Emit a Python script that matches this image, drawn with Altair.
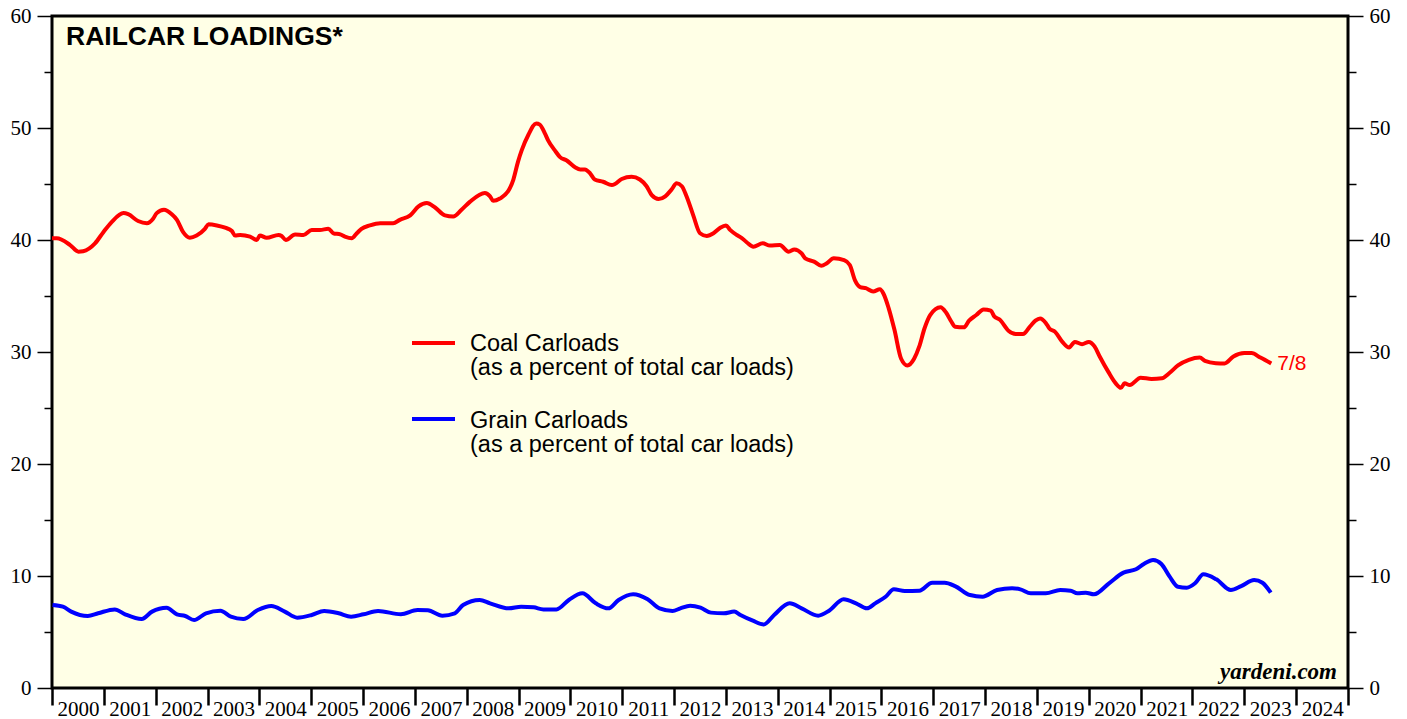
import altair as alt
import pandas as pd

# ---------------- data ----------------
coal_dates = [2000.00, 2000.09, 2000.35, 2000.51, 2000.60, 2000.83, 2000.99, 2001.15, 2001.38, 2001.47,
              2001.66, 2001.83, 2001.95, 2002.02, 2002.16, 2002.31, 2002.41, 2002.53, 2002.66, 2002.79,
              2002.95, 2003.02, 2003.18, 2003.34, 2003.47, 2003.53, 2003.63, 2003.82, 2003.95, 2004.01,
              2004.14, 2004.37, 2004.43, 2004.51, 2004.69, 2004.85, 2005.01, 2005.17, 2005.33, 2005.43,
              2005.56, 2005.65, 2005.78, 2005.88, 2005.97, 2006.13, 2006.33, 2006.49, 2006.58, 2006.71,
              2006.91, 2007.07, 2007.23, 2007.39, 2007.58, 2007.74, 2007.90, 2008.06, 2008.35, 2008.45,
              2008.51, 2008.64, 2008.83, 2008.90, 2008.99, 2009.06, 2009.19, 2009.34, 2009.41, 2009.51,
              2009.57, 2009.70, 2009.80, 2009.93, 2010.09, 2010.19, 2010.28, 2010.38, 2010.47, 2010.63,
              2010.80, 2010.86, 2010.99, 2011.18, 2011.34, 2011.47, 2011.57, 2011.70, 2011.83, 2011.95,
              2012.05, 2012.15, 2012.24, 2012.37, 2012.50, 2012.63, 2012.76, 2012.89, 2013.00, 2013.08,
              2013.21, 2013.30, 2013.40, 2013.53, 2013.71, 2013.85, 2014.04, 2014.21, 2014.32, 2014.46,
              2014.53, 2014.70, 2014.84, 2014.94, 2015.08, 2015.28, 2015.39, 2015.49, 2015.59, 2015.70,
              2015.84, 2015.97, 2016.04, 2016.14, 2016.25, 2016.38, 2016.50, 2016.63, 2016.73, 2016.83,
              2016.94, 2017.14, 2017.25, 2017.35, 2017.42, 2017.59, 2017.69, 2017.83, 2017.97, 2018.11,
              2018.18, 2018.28, 2018.45, 2018.59, 2018.73, 2018.87, 2018.97, 2019.06, 2019.17, 2019.24,
              2019.35, 2019.49, 2019.62, 2019.73, 2019.87, 2020.00, 2020.11, 2020.21, 2020.38, 2020.52,
              2020.62, 2020.69, 2020.79, 2021.00, 2021.21, 2021.41, 2021.55, 2021.72, 2021.93, 2022.14,
              2022.24, 2022.45, 2022.62, 2022.79, 2023.00, 2023.14, 2023.31, 2023.52]
coal_values = [40.15, 40.15, 39.55, 38.96, 39.0, 39.7, 40.7, 41.6, 42.4, 42.3,
               41.7, 41.5, 41.9, 42.4, 42.7, 42.3, 41.8, 40.7, 40.2, 40.4,
               41.0, 41.4, 41.3, 41.1, 40.8, 40.4, 40.45, 40.3, 40.0, 40.4,
               40.2, 40.45, 40.36, 40.0, 40.5, 40.45, 40.9, 40.9, 41.0, 40.6,
               40.5, 40.3, 40.15, 40.6, 41.0, 41.3, 41.5, 41.5, 41.5, 41.8,
               42.2, 43.0, 43.3, 42.9, 42.2, 42.1, 42.7, 43.4, 44.2, 43.9,
               43.5, 43.7, 44.6, 45.4, 47.0, 48.0, 49.4, 50.4, 50.3, 49.5,
               48.9, 48.0, 47.4, 47.1, 46.5, 46.3, 46.3, 45.95, 45.4, 45.2,
               44.9, 45.0, 45.45, 45.65, 45.4, 44.8, 44.0, 43.66, 43.9, 44.5,
               45.06, 44.8, 43.9, 42.2, 40.6, 40.36, 40.6, 41.1, 41.3, 40.9,
               40.45, 40.2, 39.8, 39.4, 39.7, 39.5, 39.55, 38.96, 39.16, 38.8,
               38.36, 38.07, 37.7, 37.9, 38.36, 38.2, 37.77, 36.4, 35.8, 35.7,
               35.4, 35.6, 35.2, 33.9, 32.0, 29.4, 28.8, 29.4, 30.5, 32.1,
               33.3, 34.0, 33.5, 32.7, 32.26, 32.2, 32.8, 33.3, 33.8, 33.7,
               33.15, 32.9, 31.9, 31.6, 31.6, 32.3, 32.8, 33.0, 32.6, 32.1,
               31.8, 30.9, 30.4, 30.9, 30.7, 30.9, 30.5, 29.6, 28.2, 27.2,
               26.8, 27.2, 27.05, 27.7, 27.6, 27.65, 28.1, 28.8, 29.3, 29.5,
               29.2, 29.0, 28.98, 29.6, 29.9, 29.9, 29.5, 28.98]

grain_dates = [2000.01, 2000.21, 2000.37, 2000.69, 2000.89, 2001.21, 2001.41, 2001.73, 2001.93, 2002.21,
               2002.41, 2002.57, 2002.74, 2002.97, 2003.25, 2003.45, 2003.69, 2003.97, 2004.23, 2004.49,
               2004.73, 2005.01, 2005.25, 2005.53, 2005.77, 2006.01, 2006.29, 2006.73, 2007.05, 2007.25,
               2007.53, 2007.77, 2007.93, 2008.25, 2008.45, 2008.81, 2009.05, 2009.29, 2009.48, 2009.73,
               2009.97, 2010.23, 2010.49, 2010.73, 2010.93, 2011.21, 2011.49, 2011.72, 2011.97, 2012.12,
               2012.31, 2012.51, 2012.71, 2012.96, 2013.16, 2013.28, 2013.52, 2013.73, 2013.93, 2014.23,
               2014.46, 2014.78, 2014.99, 2015.27, 2015.51, 2015.72, 2015.88, 2016.08, 2016.24, 2016.45,
               2016.73, 2016.98, 2017.22, 2017.42, 2017.71, 2017.95, 2018.23, 2018.52, 2018.68, 2018.88,
               2019.17, 2019.45, 2019.65, 2019.78, 2019.94, 2020.10, 2020.39, 2020.67, 2020.91, 2021.07,
               2021.24, 2021.40, 2021.56, 2021.72, 2021.89, 2022.05, 2022.21, 2022.46, 2022.74, 2022.94,
               2023.19, 2023.35, 2023.51]
grain_values = [7.41, 7.26, 6.82, 6.43, 6.67, 7.02, 6.58, 6.16, 6.82, 7.17,
                6.58, 6.43, 6.07, 6.67, 6.9, 6.37, 6.16, 6.96, 7.32, 6.82,
                6.28, 6.52, 6.88, 6.67, 6.37, 6.58, 6.88, 6.58, 6.96, 6.94,
                6.46, 6.67, 7.41, 7.86, 7.56, 7.11, 7.26, 7.2, 7.02, 7.02,
                7.86, 8.45, 7.56, 7.11, 7.86, 8.37, 7.92, 7.11, 6.88, 7.11,
                7.35, 7.17, 6.73, 6.67, 6.82, 6.52, 6.01, 5.68, 6.52, 7.56,
                7.11, 6.46, 6.9, 7.92, 7.56, 7.11, 7.56, 8.15, 8.81, 8.66,
                8.69, 9.4, 9.4, 9.1, 8.3, 8.15, 8.75, 8.9, 8.81, 8.45,
                8.45, 8.75, 8.69, 8.45, 8.51, 8.37, 9.35, 10.3, 10.6, 11.1,
                11.43, 11.07, 9.94, 9.04, 8.96, 9.35, 10.15, 9.7, 8.75, 9.1,
                9.64, 9.4, 8.51]

series_names = ["Coal", "Grain"]
series_colors = ["#ff0000", "#0000ff"]
year_ticks = list(range(2000, 2026))
y_ticks = list(range(0, 61, 5))

title_text = "RAILCAR LOADINGS*"
legend_line1 = ["Coal Carloads", "(as a percent of total car loads)"]
legend_line2 = ["Grain Carloads", "(as a percent of total car loads)"]
last_label = "7/8"
source_text = "yardeni.com"

# ---------------- build ----------------
SERIF = "Liberation Serif"
SANS = "Liberation Sans"

coal = pd.DataFrame({"date": coal_dates, "value": coal_values, "series": "Coal"})
grain = pd.DataFrame({"date": grain_dates, "value": grain_values, "series": "Grain"})
df = pd.concat([coal, grain], ignore_index=True)

x_scale = alt.Scale(domain=[2000, 2025], nice=False, zero=False)
y_scale = alt.Scale(domain=[0, 60], nice=False, zero=False)

x_axis = alt.Axis(values=year_ticks, title=None, grid=False, domain=False, format="d",
                  tickSize=17, tickWidth=2.5, tickColor="black",
                  labelOffset=26, labelPadding=-7, labelFlush=False, labelOverlap=False,
                  labelBound=False,
                  labelExpr="datum.value < 2025 ? datum.label : ''",
                  labelFont=SERIF, labelFontSize=21, labelColor="black")


def y_axis(orient):
    return alt.Axis(orient=orient, values=y_ticks, title=None, grid=False, domain=False,
                    format="d",
                    tickSize={"condition": {"test": "datum.value % 10 === 0", "value": 15}, "value": 8},
                    tickWidth=1.5, tickColor="black",
                    labelPadding=6, labelOverlap=False, labelFlush=False, labelBound=False,
                    labelExpr="datum.value % 10 === 0 ? datum.label : ''",
                    labelFont=SERIF, labelFontSize=21, labelColor="black")


X = alt.X("date:Q", scale=x_scale, axis=x_axis)

lines = alt.Chart(df).mark_line(strokeWidth=4, interpolate="monotone").encode(
    x=X,
    y=alt.Y("value:Q", scale=y_scale, axis=y_axis("left")),
    color=alt.Color("series:N", scale=alt.Scale(domain=series_names, range=series_colors), legend=None),
)

right_axis = alt.Chart(df).mark_line(opacity=0).encode(
    x=X,
    y=alt.Y("value:Q", scale=y_scale, axis=y_axis("right")),
    detail="series:N",
)

end_df = pd.DataFrame({"date": [coal_dates[-1]], "value": [coal_values[-1]], "t": [last_label]})
end_label = alt.Chart(end_df).mark_text(align="left", baseline="middle", dx=6, dy=1,
                                        font=SANS, fontSize=21, color="#ff0000").encode(
    x=X,
    y=alt.Y("value:Q", scale=y_scale, axis=None),
    text="t:N",
)

title = alt.Chart(pd.DataFrame({"t": [title_text]})).mark_text(
    align="left", baseline="alphabetic", font=SANS, fontWeight="bold", fontSize=26.5, color="black"
).encode(text="t:N", x=alt.value(14), y=alt.value(29))

source = alt.Chart(pd.DataFrame({"t": [source_text]})).mark_text(
    align="right", baseline="alphabetic", font=SERIF, fontWeight="bold", fontStyle="italic",
    fontSize=23, color="black"
).encode(text="t:N", x=alt.value(1285), y=alt.value(663))

leg_rule_red = alt.Chart(pd.DataFrame({"s": ["Coal"]})).mark_rule(
    strokeWidth=4, color="#ff0000").encode(x=alt.value(360), x2=alt.value(403), y=alt.value(327))
leg_rule_blue = alt.Chart(pd.DataFrame({"s": ["Grain"]})).mark_rule(
    strokeWidth=4, color="#0000ff").encode(x=alt.value(360), x2=alt.value(403), y=alt.value(403))


def legend_text(lines_, y0):
    out = []
    for i, s in enumerate(lines_):
        out.append(alt.Chart(pd.DataFrame({"t": [s]})).mark_text(
            align="left", baseline="alphabetic", font=SANS, fontSize=23.5, color="black"
        ).encode(text="t:N", x=alt.value(418), y=alt.value(y0 + 24 * i)))
    return out


layers = [lines, right_axis, end_label, title, source, leg_rule_red, leg_rule_blue]
layers += legend_text(legend_line1, 335)
layers += legend_text(legend_line2, 411.5)

chart = alt.layer(*layers).resolve_scale(y="independent").properties(
    width=1296, height=672,
    autosize=alt.AutoSizeParams(type="none"),
    padding={"left": 44, "top": 8, "right": 50, "bottom": 31},
).configure_view(fill="#ffffe6", stroke="black", strokeWidth=3)

chart.save("out.html", embed_options={"renderer": "svg", "actions": False})
